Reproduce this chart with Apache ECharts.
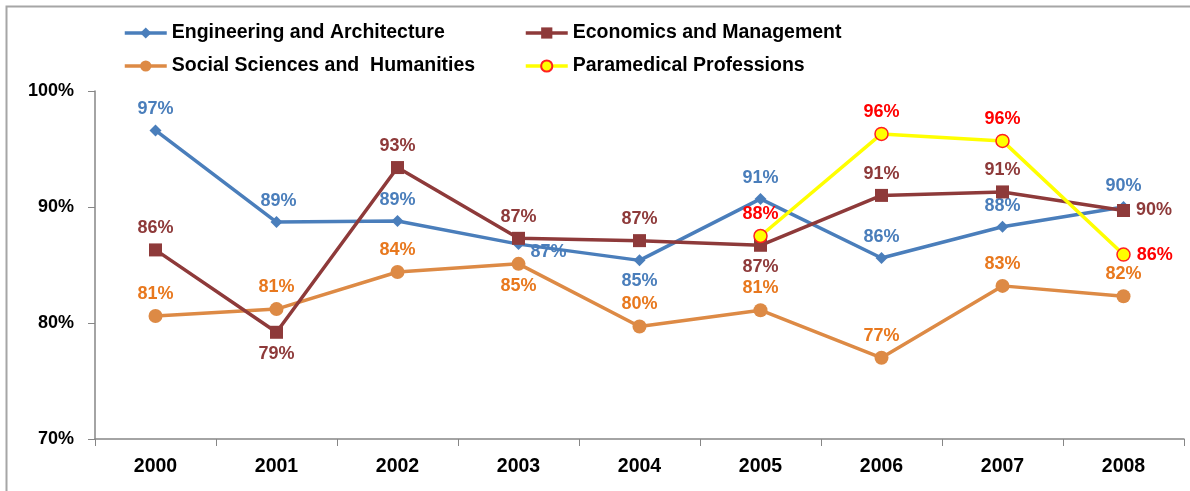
<!DOCTYPE html>
<html>
<head>
<meta charset="utf-8">
<script src="https://cdn.jsdelivr.net/npm/echarts@6/dist/echarts.min.js"></script>
<style>
html,body{margin:0;padding:0;background:#fff;}
#c{width:1190px;height:491px;}
</style>
</head>
<body>
<div id="c"></div>
<script>
var years = ['2000','2001','2002','2003','2004','2005','2006','2007','2008'];
var engineering = [96.6, 88.7, 88.8, 86.8, 85.4, 90.7, 85.6, 88.3, 90.0];
var economics = [86.3, 79.2, 93.4, 87.3, 87.1, 86.7, 91.0, 91.3, 89.7];
var social = [80.6, 81.2, 84.4, 85.1, 79.7, 81.1, 77.0, 83.2, 82.3];
var paramedical = [null, null, null, null, null, 87.5, 96.3, 95.7, 85.9];
var yTicks = [70, 80, 90, 100];

var FONT = 'Liberation Sans, Arial, sans-serif';

// label placement per point (presentation only)
var engPos = ['top','top','top','right','bottom','top','top','top','top'];
var ecoPos = ['top','bottom','top','top','top','bottom','top','top','right'];
var socPos = ['top','top','top','bottom','top','top','top','top','top'];
var parPos = ['top','top','top','top','top','top','top','top','right'];

function build(vals, pos, offsets) {
  return vals.map(function (v, i) {
    var o = { value: v, label: { position: pos[i] } };
    if (offsets && offsets[i]) o.label.offset = offsets[i];
    return o;
  });
}

function labelStyle(color) {
  return {
    show: true,
    color: color,
    fontFamily: FONT,
    fontSize: 18,
    fontWeight: 'bold',
    distance: 6,
    formatter: function (p) { return p.value == null ? '' : Math.round(p.value) + '%'; }
  };
}

var engOff = {3: [0, 8], 1: [2, 0]};

var legendText = {fontFamily: FONT, fontSize: 19.5, fontWeight: 'bold', color: '#000', lineHeight: 20};

var chart = echarts.init(document.getElementById('c'), null, {renderer: 'canvas'});
chart.setOption({
  backgroundColor: '#fff',
  animation: false,
  graphic: [{
    type: 'rect',
    shape: {x: 6.5, y: 6.5, width: 1200, height: 600},
    style: {fill: 'none', stroke: '#a6a6a6', lineWidth: 2},
    silent: true
  }],
  legend: [{
    left: 123, top: 23, orient: 'vertical', padding: 0,
    itemWidth: 42, itemHeight: 14, itemGap: 13,
    lineStyle: {width: 3.5},
    textStyle: legendText,
    data: ['Engineering and Architecture', 'Social Sciences and  Humanities']
  }, {
    left: 524, top: 23, orient: 'vertical', padding: 0,
    itemWidth: 42, itemHeight: 14, itemGap: 13,
    lineStyle: {width: 3.5},
    textStyle: legendText,
    data: ['Economics and Management', 'Paramedical Professions']
  }],
  grid: {left: 95, right: 6, top: 91, bottom: 52, containLabel: false},
  xAxis: {
    type: 'category',
    data: years,
    boundaryGap: true,
    axisLine: {lineStyle: {color: '#868686', width: 1.5}},
    axisTick: {show: true, length: 7, lineStyle: {color: '#868686'}},
    axisLabel: {fontFamily: FONT, fontSize: 19.5, fontWeight: 'bold', color: '#000', margin: 18}
  },
  yAxis: {
    type: 'value',
    min: yTicks[0], max: yTicks[yTicks.length - 1], interval: 10,
    splitLine: {show: false},
    axisLine: {show: true, lineStyle: {color: '#868686', width: 1.5}},
    axisTick: {show: true, length: 7, lineStyle: {color: '#868686'}},
    axisLabel: {fontFamily: FONT, fontSize: 18, fontWeight: 'bold', color: '#000', margin: 21,
      formatter: function (v) { return v + '%'; }}
  },
  series: [{
    name: 'Engineering and Architecture', type: 'line',
    data: build(engineering, engPos, engOff),
    symbol: 'diamond', symbolSize: 12,
    lineStyle: {color: '#4a7ebb', width: 3.5},
    itemStyle: {color: '#4a7ebb'},
    label: labelStyle('#4a7ebb'),
    z: 3
  }, {
    name: 'Economics and Management', type: 'line',
    data: build(economics, ecoPos),
    symbol: 'rect', symbolSize: 13,
    lineStyle: {color: '#8e3a3a', width: 3.5},
    itemStyle: {color: '#8e3a3a'},
    label: labelStyle('#8e3a3a'),
    z: 4
  }, {
    name: 'Social Sciences and  Humanities', type: 'line',
    data: build(social, socPos),
    symbol: 'circle', symbolSize: 14,
    lineStyle: {color: '#dd8a45', width: 3.5},
    itemStyle: {color: '#dd8a45'},
    label: labelStyle('#e8781e'),
    z: 2
  }, {
    name: 'Paramedical Professions', type: 'line',
    data: build(paramedical, parPos),
    symbol: 'circle', symbolSize: 13,
    connectNulls: false,
    lineStyle: {color: '#ffff00', width: 3.5},
    itemStyle: {color: '#ffff00', borderColor: '#ff2020', borderWidth: 1.5},
    label: labelStyle('#ff0000'),
    z: 5
  }]
});
</script>
</body>
</html>
